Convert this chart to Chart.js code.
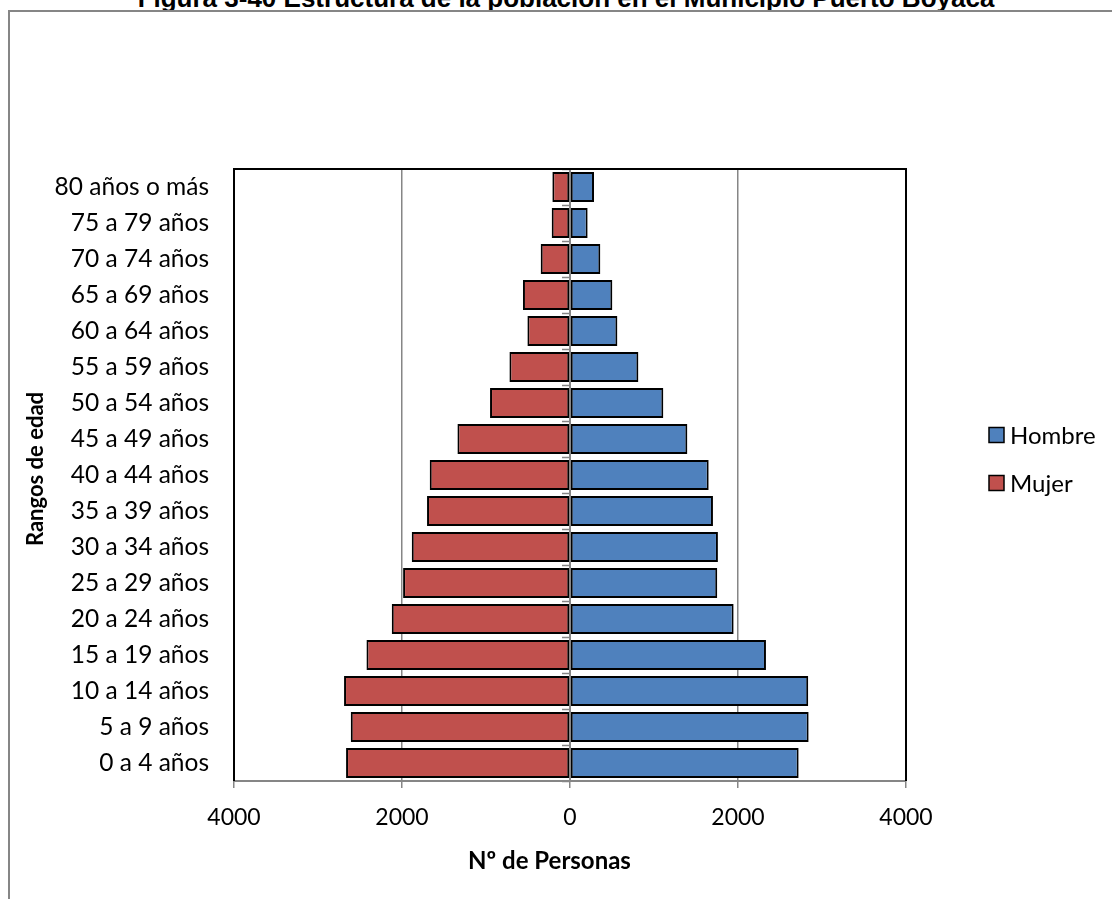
<!DOCTYPE html>
<html><head><meta charset="utf-8">
<script src="https://cdn.jsdelivr.net/npm/chart.js@4.4.0/dist/chart.umd.min.js"></script>
<style>
html,body{margin:0;padding:0;background:#fff;overflow:hidden;width:1112px;height:899px;}
#title{position:absolute;left:0;width:1132px;text-align:center;top:-15px;font:bold 26px "Liberation Sans",Arial,sans-serif;line-height:26px;color:#000;white-space:nowrap;}
#frame{position:absolute;left:8px;top:10px;width:1200px;height:1000px;border-left:2px solid #868686;border-top:2px solid #868686;background:#fff;}
#wrap{position:absolute;left:0;top:0;width:1112px;height:899px;}
</style></head><body>
<div id="title">Figura 3-40 Estructura de la población en el Municipio Puerto Boyacá</div>
<div id="frame"></div>
<div id="wrap"><canvas id="c" width="1112" height="899"></canvas></div>
<script>
const categories = ['0 a 4 años','5 a 9 años','10 a 14 años','15 a 19 años','20 a 24 años','25 a 29 años','30 a 34 años','35 a 39 años','40 a 44 años','45 a 49 años','50 a 54 años','55 a 59 años','60 a 64 años','65 a 69 años','70 a 74 años','75 a 79 años','80 años o más'];
const hombre = [2722,2841,2836,2333,1948,1753,1761,1702,1651,1397,1111,814,564,504,361,210,286];
const mujer = [2666,2610,2690,2423,2122,1987,1884,1702,1670,1340,952,721,507,560,349,218,210];
const xTickValues = [-4000,-2000,0,2000,4000];
const seriesNames = ['Hombre','Mujer'];
const axisTitles = {x:'Nº de Personas', y:'Rangos de edad'};

const GRAY = '#868686';

const customDraw = {
  id:'customDraw',
  afterDatasetsDraw(chart){
    const ctx = chart.ctx, a = chart.chartArea;
    const xs = chart.scales.x;
    const x0 = xs.getPixelForValue(0);
    ctx.save();
    ctx.strokeStyle = GRAY; ctx.lineWidth = 2;
    ctx.beginPath(); ctx.moveTo(x0, a.top); ctx.lineTo(x0, a.bottom); ctx.stroke();
    const n = categories.length, step = (a.bottom - a.top)/n;
    ctx.lineWidth = 1.5;
    for(let i=0;i<=n;i++){
      const y = Math.round(a.top + i*step)+0.5;
      ctx.beginPath(); ctx.moveTo(x0-8, y); ctx.lineTo(x0, y); ctx.stroke();
    }
    ctx.strokeStyle = GRAY; ctx.lineWidth = 2;
    ctx.beginPath(); ctx.moveTo(a.left, a.bottom); ctx.lineTo(a.right, a.bottom); ctx.stroke();
    ctx.strokeStyle = '#000'; ctx.lineWidth = 2;
    ctx.beginPath();
    ctx.moveTo(a.left, a.bottom); ctx.lineTo(a.left, a.top); ctx.lineTo(a.right, a.top); ctx.lineTo(a.right, a.bottom);
    ctx.stroke();
    ctx.restore();
  },
  afterDraw(chart){
    const ctx = chart.ctx;
    ctx.save();
    ctx.font = '24px Lato';
    ctx.textBaseline = 'middle';
    chart.data.datasets.forEach((ds,i)=>{
      const cy = 435 + i*48;
      ctx.fillStyle = ds.backgroundColor;
      ctx.fillRect(989, cy-7.5, 15, 15);
      ctx.strokeStyle = '#000'; ctx.lineWidth = 1.5;
      ctx.strokeRect(989, cy-7.5, 15, 15);
      ctx.fillStyle = '#000';
      ctx.textAlign = 'left';
      ctx.fillText(ds.label, 1010, cy+1);
    });
    ctx.fillStyle = '#000';
    ctx.textAlign = 'center';
    ctx.font = 'bold 24px Lato';
    ctx.fillText(axisTitles.x, 549.5, 861);
    ctx.font = 'bold 22px Lato';
    ctx.translate(36, 469);
    ctx.rotate(-Math.PI/2);
    ctx.fillText(axisTitles.y, 0, 0);
    ctx.restore();
  }
};

new Chart(document.getElementById('c'), {
  type:'bar',
  data:{
    labels: categories,
    datasets:[
      {label: seriesNames[0], data: hombre, backgroundColor:'#4F81BD', borderColor:'#000', borderWidth:2, borderSkipped:false},
      {label: seriesNames[1], data: mujer.map(v=>-v), backgroundColor:'#C0504D', borderColor:'#000', borderWidth:2, borderSkipped:false}
    ]
  },
  options:{
    indexAxis:'y',
    responsive:false,
    animation:false,
    devicePixelRatio:1,
    barPercentage:0.83,
    categoryPercentage:1,
    layout:{padding:{top:169,right:206,bottom:18,left:0}},
    plugins:{legend:{display:false}, title:{display:false}, tooltip:{enabled:false}},
    scales:{
      x:{
        type:'linear', min:-4000, max:4000, stacked:true,
        afterBuildTicks(s){ s.ticks = xTickValues.map(v=>({value:v})); },
        afterFit(s){ s.height = 100; },
        ticks:{font:{family:'Lato', size:23}, color:'#000', padding:16, callback:v=>String(Math.abs(v)), maxRotation:0},
        grid:{
          color:c => (c.tick && Math.abs(c.tick.value)===2000) ? GRAY : 'rgba(0,0,0,0)',
          tickColor:GRAY, tickLength:7, lineWidth:1.5
        },
        border:{display:false}
      },
      y:{
        stacked:true, reverse:true,
        afterFit(s){ s.width = 234; },
        ticks:{font:{family:'Lato', size:24.5}, color:'#000', padding:17},
        grid:{display:false},
        border:{display:false}
      }
    }
  },
  plugins:[customDraw]
});
</script>
</body></html>
